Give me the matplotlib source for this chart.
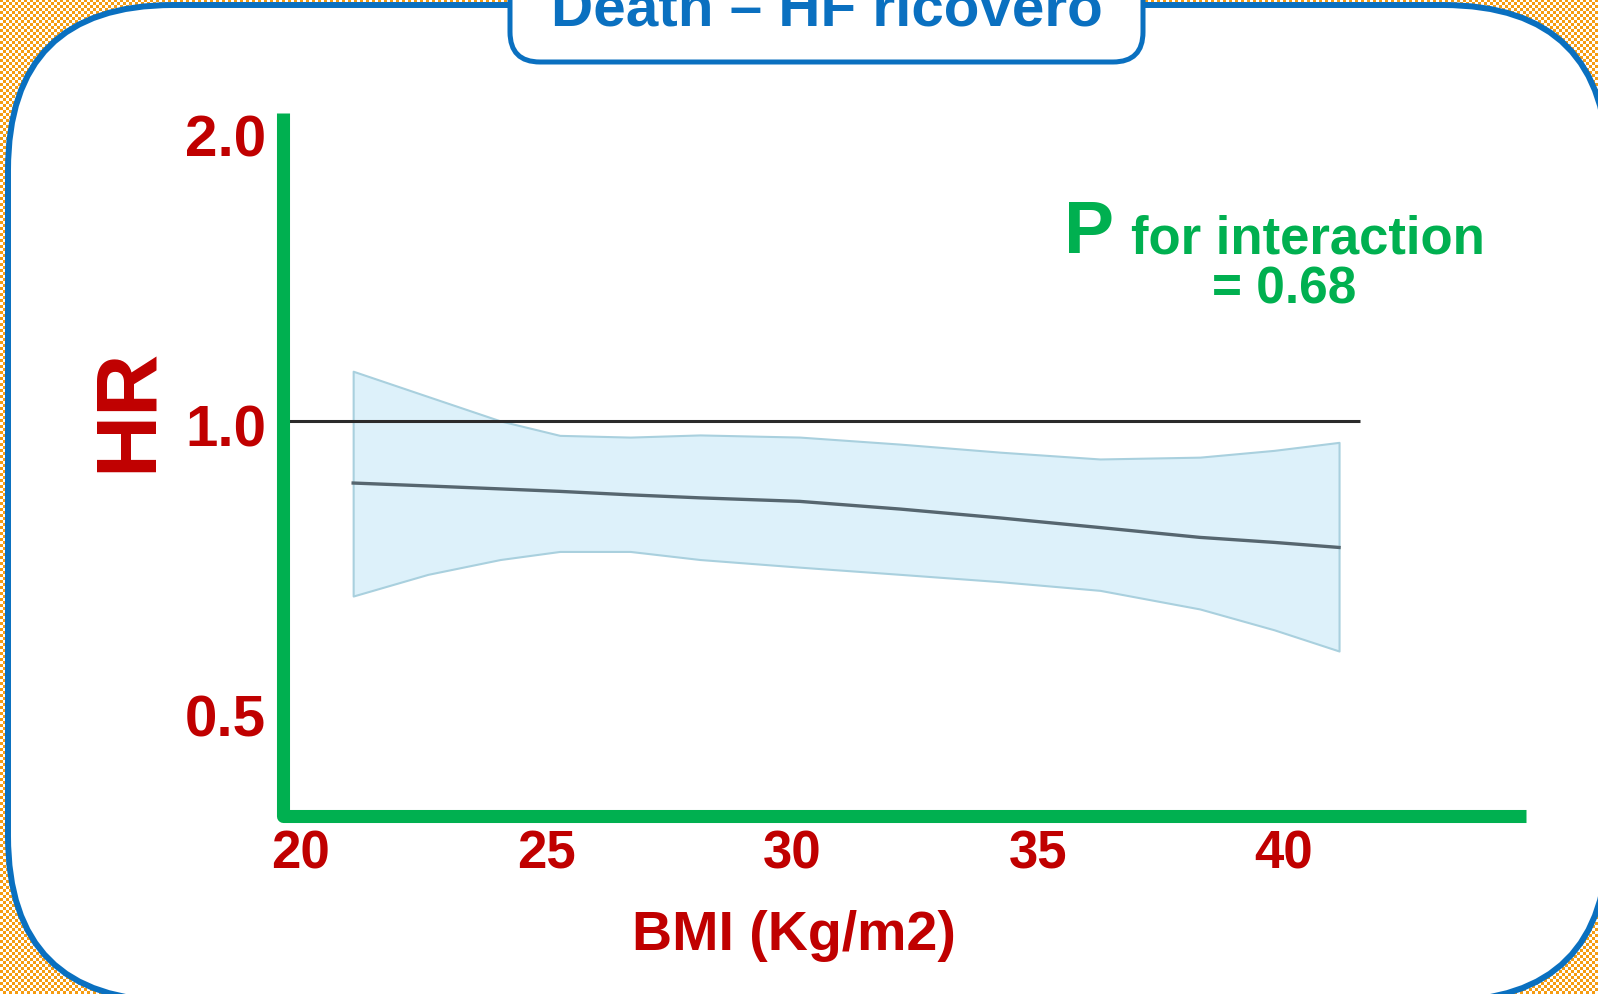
import numpy as np
import matplotlib
matplotlib.use("Agg")
import matplotlib.pyplot as plt
import matplotlib.transforms as mtransforms
from matplotlib.patches import FancyBboxPatch
from matplotlib.colors import ListedColormap
from matplotlib.ticker import NullLocator, NullFormatter

plt.rcParams['font.family'] = ['Liberation Sans', 'DejaVu Sans']
plt.rcParams['font.weight'] = 'bold'

# data (BMI vs hazard ratio with 95% band)
bmi = [21.08, 22.6, 24.07, 25.28, 26.71, 28.13, 30.16, 32.20, 34.23, 36.26, 38.29, 39.8, 41.12]
hr_fit = [0.862, 0.856, 0.850, 0.845, 0.838, 0.832, 0.825, 0.810, 0.793, 0.775, 0.757, 0.748, 0.739]
hr_upper = [1.126, 1.060, 1.000, 0.966, 0.962, 0.967, 0.962, 0.946, 0.928, 0.913, 0.917, 0.932, 0.950]
hr_lower = [0.658, 0.693, 0.718, 0.732, 0.732, 0.718, 0.705, 0.693, 0.681, 0.667, 0.638, 0.607, 0.577]
ref_end = 41.55
x_ticks = [20, 25, 30, 35, 40]
y_ticks = [0.5, 1.0, 2.0]
y_ticklabels = ['0.5', '1.0', '2.0']

RED = '#c00000'
GREEN = '#00b050'
BLUE = '#0a70c0'

W, H = 1598, 995
fig = plt.figure(figsize=(W / 100, H / 100), dpi=100)

# background in pixel coordinates
bg = fig.add_axes([0, 0, 1, 1])
bg.set_axis_off()
cell = 3
checker = np.indices((H // cell + 1, W // cell + 1)).sum(axis=0) % 2
bg.imshow(checker, cmap=ListedColormap(['#f59c12', '#ffffff']),
          extent=(0, W, H, 0), interpolation='nearest', aspect='auto')
bg.set_xlim(0, W)
bg.set_ylim(H, 0)

frame = FancyBboxPatch((8, 6), 1600, 996, boxstyle="round,pad=0,rounding_size=165",
                       facecolor='white', edgecolor=BLUE, linewidth=4.3)
bg.add_patch(frame)

title_box = FancyBboxPatch((510, -40), 633, 103, boxstyle="round,pad=0,rounding_size=30",
                           facecolor='white', edgecolor=BLUE, linewidth=3.6)
bg.add_patch(title_box)
bg.text(827, 25.5, 'Death – HF ricovero', ha='center', va='baseline',
        fontsize=42, color=BLUE, fontweight='bold')

# P for interaction
bg.text(1064, 253, 'P', ha='left', va='baseline', fontsize=54, color=GREEN, fontweight='bold')
bg.text(1131, 253, 'for interaction', ha='left', va='baseline', fontsize=38,
        color=GREEN, fontweight='bold')
bg.text(1284, 304, '= 0.68', ha='center', va='baseline', fontsize=37,
        color=GREEN, fontweight='bold')

# main plot
x0, x1, ytop, ybot = 283, 1526, 114, 817
ax = fig.add_axes([x0 / W, (H - ybot) / H, (x1 - x0) / W, (ybot - ytop) / H])
ax.patch.set_visible(False)
ax.set_yscale('log')
ax.set_xlim(19.654, 44.92)
ax.set_ylim(0.389, 2.087)
for s in ax.spines.values():
    s.set_visible(False)

ax.fill_between(bmi, hr_lower, hr_upper, facecolor='#ddf1fa', edgecolor='#a9d0de',
                linewidth=1.5, zorder=2)
ax.hlines(1.0, ax.get_xlim()[0], ref_end, color='#2b2b2b', linewidth=2.2, zorder=3)
ax.plot(bmi, hr_fit, color='#56666f', linewidth=2.4, zorder=4)

ax.plot([0, 0, 1], [1, 0, 0], transform=ax.transAxes, color=GREEN, linewidth=9.4,
        solid_joinstyle='round', solid_capstyle='butt', clip_on=False, zorder=5)

ax.set_xticks(x_ticks)
ax.set_xticklabels([str(t) for t in x_ticks], fontsize=38, color=RED, fontweight='bold')
ax.set_yticks(y_ticks)
ax.set_yticklabels(y_ticklabels, fontsize=42, color=RED, fontweight='bold')
ax.yaxis.set_minor_locator(NullLocator())
ax.yaxis.set_minor_formatter(NullFormatter())
ax.tick_params(axis='both', length=0)
ax.tick_params(axis='y', pad=12)
ax.tick_params(axis='x', pad=9)

# labels sit a few pixels lower than the grid positions in the original
shift = mtransforms.ScaledTranslation(0, -4 / 100, fig.dpi_scale_trans)
for lbl in ax.get_yticklabels():
    lbl.set_transform(lbl.get_transform() + shift)

ax.set_xlabel('BMI (Kg/m2)', fontsize=40, color=RED, fontweight='bold', va='baseline')
ax.xaxis.set_label_coords((794 - x0) / (x1 - x0), (ybot - 950) / (ybot - ytop))
ax.set_ylabel('HR', fontsize=62, color=RED, fontweight='bold', va='center', ha='center')
ax.yaxis.set_label_coords((129 - x0) / (x1 - x0), (ybot - 410) / (ybot - ytop))

fig.savefig('out.png', dpi=100)
